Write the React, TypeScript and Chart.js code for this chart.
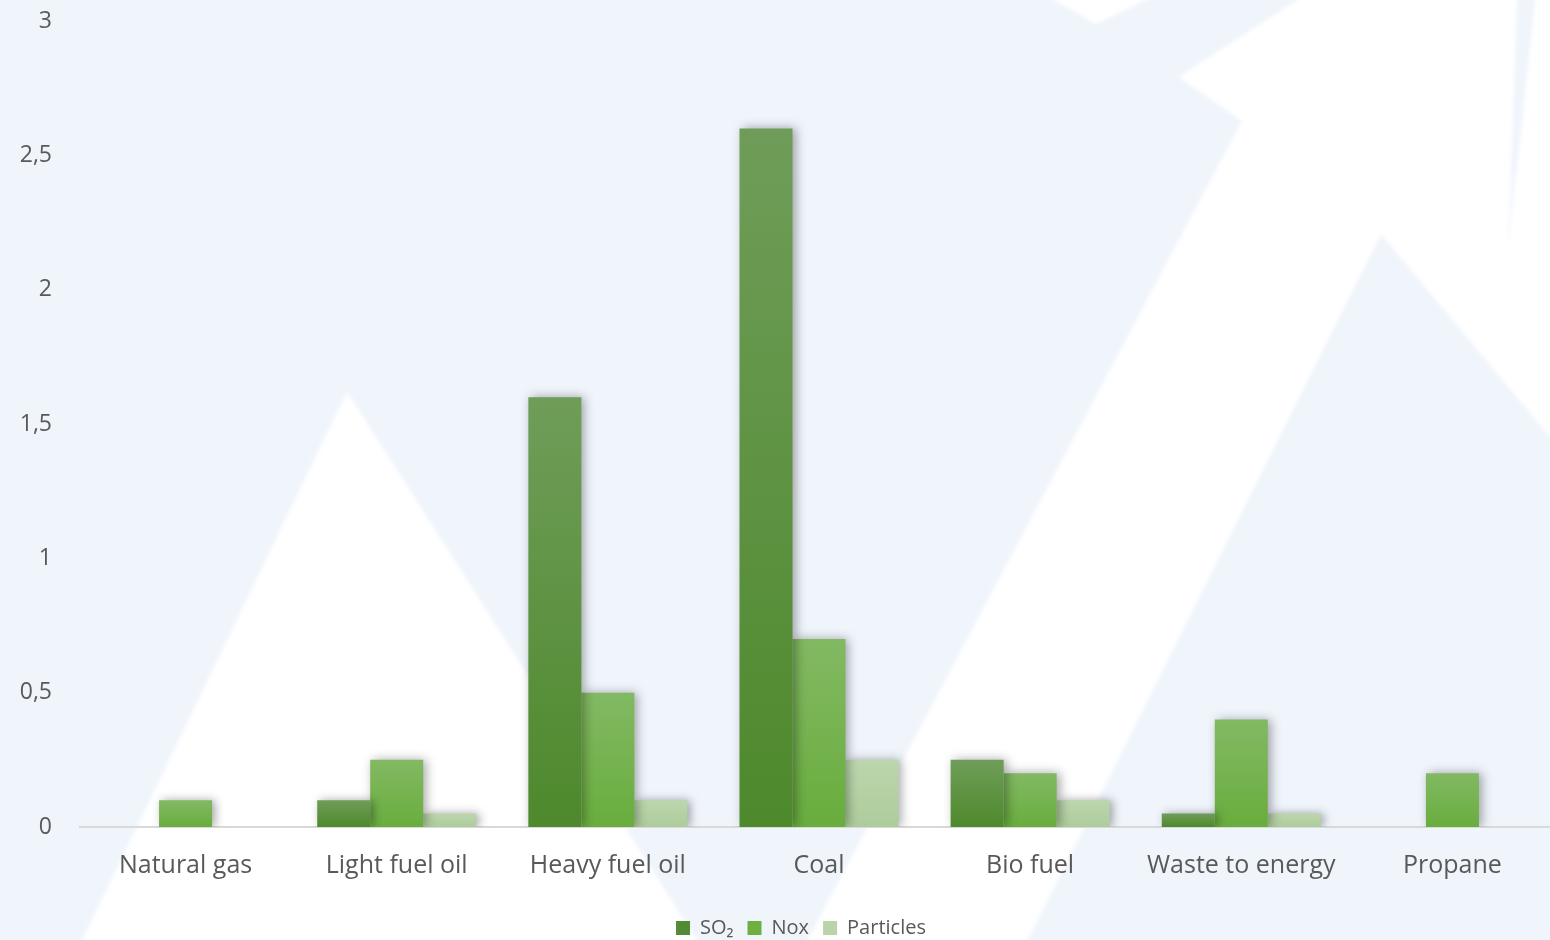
import React, { useEffect, useRef } from "react";
import { Chart, registerables } from "chart.js";

Chart.register(...registerables);

const categories = ["Natural gas", "Light fuel oil", "Heavy fuel oil", "Coal", "Bio fuel", "Waste to energy", "Propane"];
const so2Values = [0, 0.1, 1.6, 2.6, 0.25, 0.05, 0];
const noxValues = [0.1, 0.25, 0.5, 0.7, 0.2, 0.4, 0.2];
const particleValues = [0, 0.05, 0.1, 0.25, 0.1, 0.05, 0];
const seriesNames = ["SO\u2082", "Nox", "Particles"];
const yTicks = [0, 0.5, 1, 1.5, 2, 2.5, 3];

const seriesTop = ["#6f9d59", "#82b963", "#bcd6ad"];
const seriesBottom = ["#4e892c", "#69ad3d", "#adcc9b"];
const legendColors = ["#538b35", "#6eaf41", "#b8d4a8"];

const FONT = "'Open Sans', sans-serif";
const TEXT = "#595959";

function gradientFor(i: number) {
  return (ctx: any) => {
    const chart = ctx.chart;
    if (!chart.chartArea || ctx.type !== "data" || !chart.scales.y) return seriesBottom[i];
    const v = ctx.raw as number;
    const y0 = chart.scales.y.getPixelForValue(0);
    const y1 = chart.scales.y.getPixelForValue(v);
    if (Math.abs(y0 - y1) < 1) return seriesBottom[i];
    const g = chart.ctx.createLinearGradient(0, y1, 0, y0);
    g.addColorStop(0, seriesTop[i]);
    g.addColorStop(1, seriesBottom[i]);
    return g;
  };
}

const backgroundPlugin = {
  id: "bgShapes",
  beforeDraw(chart: any) {
    const c = chart.ctx;
    const w = chart.width;
    const h = chart.height;
    c.save();
    c.fillStyle = "#f0f5fc";
    c.fillRect(0, 0, w, h);
    c.filter = "blur(2px)";
    c.fillStyle = "#ffffff";
    const polys: number[][][] = [
      [[347, 392], [80, 945], [700, 945]],
      [[805, 945], [1242, 121], [1179, 77], [1305, -5], [1517, -5], [1508, 250], [1536, -5], [1565, -5], [1565, 455], [1381, 234], [1025, 945]],
      [[1046, -5], [1096, 24], [1156, -5]],
    ];
    for (const p of polys) {
      c.beginPath();
      c.moveTo(p[0][0], p[0][1]);
      for (let k = 1; k < p.length; k++) c.lineTo(p[k][0], p[k][1]);
      c.closePath();
      c.fill();
    }
    c.restore();
  },
};

const shadowPlugin = {
  id: "barShadow",
  beforeDatasetsDraw(chart: any) {
    const c = chart.ctx;
    c.save();
    c.shadowColor = "rgba(0,0,0,0.35)";
    c.shadowBlur = 10;
    c.shadowOffsetX = 3;
    c.shadowOffsetY = 0;
  },
  afterDatasetsDraw(chart: any) {
    chart.ctx.restore();
  },
};

const legendShiftPlugin = {
  id: "legendShift",
  afterLayout(chart: any) {
    const lg = chart.legend;
    if (lg) {
      lg.left += 18;
      lg.right += 18;
    }
  },
};

export default function App() {
  const ref = useRef<HTMLCanvasElement | null>(null);

  useEffect(() => {
    document.body.style.margin = "0";
    document.body.style.overflow = "hidden";
    if (!ref.current) return;
    const values = [so2Values, noxValues, particleValues];
    const chart = new Chart(ref.current, {
      type: "bar",
      data: {
        labels: categories,
        datasets: values.map((d, i) => ({
          label: seriesNames[i],
          data: d,
          backgroundColor: gradientFor(i),
          borderWidth: 0,
          barPercentage: 1,
          categoryPercentage: 0.753,
        })),
      },
      options: {
        responsive: false,
        animation: false,
        devicePixelRatio: 1,
        layout: { padding: { left: 8, right: 2, top: 21, bottom: -8 }, autoPadding: false },
        plugins: {
          tooltip: { enabled: false },
          legend: {
            position: "bottom",
            labels: {
              boxWidth: 14,
              boxHeight: 14,
              padding: 14,
              color: TEXT,
              font: { family: FONT, size: 20 },
              generateLabels: (ch: any) => {
                const items = (Chart.defaults.plugins.legend.labels as any).generateLabels(ch);
                return items.map((it: any, i: number) => ({
                  ...it,
                  fillStyle: legendColors[i],
                  strokeStyle: legendColors[i],
                  lineWidth: 0,
                }));
              },
            },
          },
        },
        scales: {
          x: {
            grid: { display: false, drawTicks: false },
            border: { display: true, color: "#d9d9d9", width: 2 },
            ticks: { color: TEXT, font: { family: FONT, size: 25 }, padding: 24, maxRotation: 0 },
            afterFit: (scale: any) => {
              scale.height = 77;
              scale.paddingLeft = 0;
              scale.paddingRight = 0;
            },
          },
          y: {
            min: 0,
            max: 3,
            afterBuildTicks: (scale: any) => {
              scale.ticks = yTicks.map((v) => ({ value: v }));
            },
            afterFit: (scale: any) => {
              scale.width = 72;
              scale.paddingTop = 0;
              scale.paddingBottom = 0;
            },
            grid: { display: false, drawTicks: false },
            border: { display: false },
            ticks: {
              color: TEXT,
              font: { family: FONT, size: 23 },
              padding: 28,
              callback: (v: any) => String(v).replace(".", ","),
            },
          },
        },
      },
      plugins: [backgroundPlugin, shadowPlugin, legendShiftPlugin],
    } as any);
    return () => chart.destroy();
  }, []);

  return (
    <div style={{ width: 1560, height: 940, overflow: "hidden" }}>
      <canvas ref={ref} width={1560} height={940} style={{ display: "block", width: 1560, height: 940 }} />
    </div>
  );
}
